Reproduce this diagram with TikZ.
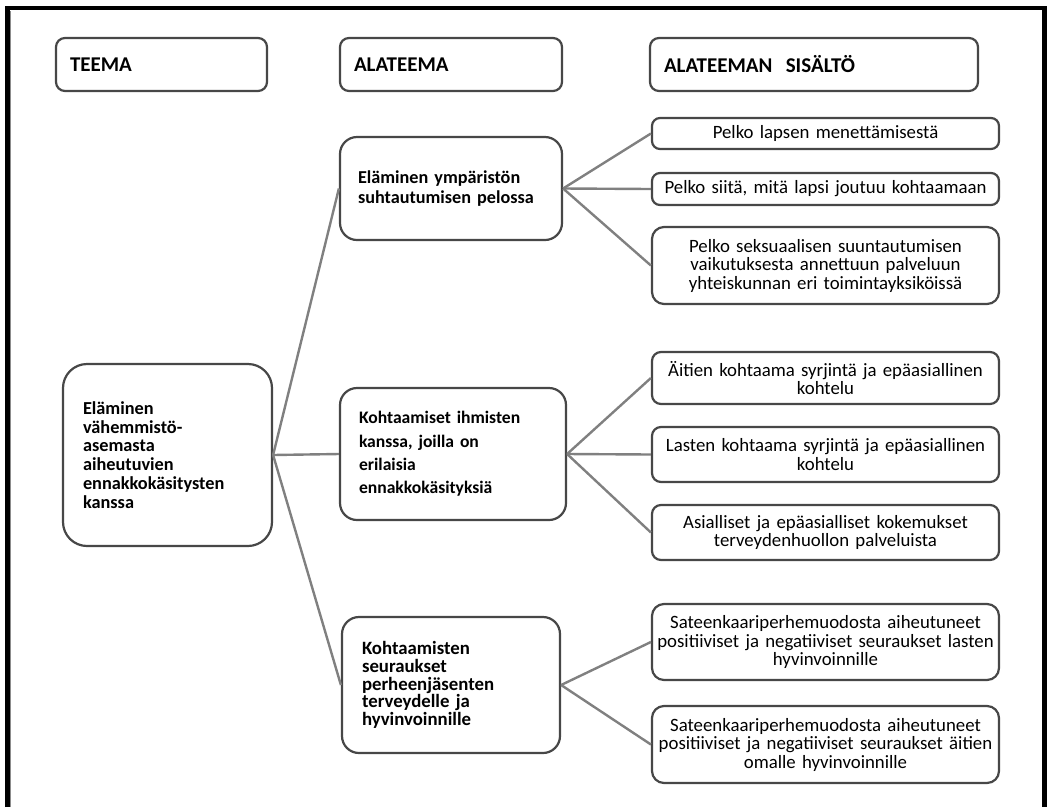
\documentclass[tikz,border=0pt]{standalone}
\usepackage{fontspec}
\setmainfont{Carlito}
\begin{document}
\begin{tikzpicture}[x=1pt,y=-1pt,
  box/.style={draw=black!72, line width=2.2pt, fill=white, inner ysep=0pt},
  hdr/.style={box, rounded corners=9pt, text width=#1, align=left, inner xsep=14pt, minimum height=53pt, font=\bfseries\fontsize{21}{24}\selectfont},
  midbox/.style={box, rounded corners=17pt, align=left, inner xsep=18pt},
  sub/.style={box, rounded corners=9pt, text width=343pt, inner xsep=2pt, align=center, font=\fontsize{18.8}{18.5}\selectfont},
  link/.style={draw=black!50, line width=2.4pt}
]
\useasboundingbox (0,0) rectangle (1047,807);
% frame
\draw[line width=4.5pt] (7.5,807) -- (7.5,8) -- (1044.5,8) -- (1044.5,807);
\draw[line width=1pt, black!45] (10.5,807) -- (10.5,11);

% headers
\node[hdr=183pt] (h1) at (161.5,64.5) {TEEMA};
\node[hdr=194pt] (h2) at (451,64.5) {ALATEEMA};
\node[hdr=300pt] (h3) at (814,64.5) {ALATEEMAN\hspace{0.3em} SISÄLTÖ};

% theme
\node[box, rounded corners=24pt, text width=169pt, inner xsep=20pt, minimum height=182pt, align=left,
  font=\bfseries\fontsize{18.3}{18.8}\selectfont] (t) at (167.5,455)
  {Eläminen\\vähemmistö-\\asemasta\\aiheutuvien\\ennakkokäsitysten\\kanssa};

% subthemes
\node[midbox, text width=186pt, minimum height=103pt, font=\bfseries\fontsize{18.2}{19.5}\selectfont] (a1) at (451,188.5)
  {Eläminen ympäristön\\suhtautumisen pelossa};
\node[midbox, text width=188pt, inner xsep=19pt, minimum height=132pt, font=\bfseries\fontsize{17.6}{23.3}\selectfont] (a2) at (453,454)
  {Kohtaamiset ihmisten\\kanssa, joilla on\\erilaisia\\ennakkokäsityksiä};
\node[midbox, text width=178pt, inner xsep=20pt, minimum height=136pt, font=\bfseries\fontsize{18.8}{17.6}\selectfont] (a3) at (451,685)
  {Kohtaamisten\\seuraukset\\perheenjäsenten\\terveydelle ja\\hyvinvoinnille};

% contents
\node[sub, rounded corners=8pt, minimum height=31pt] (s1) at (825.5,133.5) {Pelko lapsen menettämisestä};
\node[sub, rounded corners=8pt, minimum height=32pt] (s2) at (825.5,189) {Pelko siitä, mitä lapsi joutuu kohtaamaan};
\node[sub, rounded corners=12pt, minimum height=77pt] (s3) at (825.5,265.5) {Pelko seksuaalisen suuntautumisen\\vaikutuksesta annettuun palveluun\\yhteiskunnan eri toimintayksiköissä};
\node[sub, minimum height=52pt] (s4) at (825.5,378) {Äitien kohtaama syrjintä ja epäasiallinen\\kohtelu};
\node[sub, minimum height=55pt] (s5) at (825.5,454.5) {Lasten kohtaama syrjintä ja epäasiallinen\\kohtelu};
\node[sub, minimum height=55pt] (s6) at (825.5,532.5) {Asialliset ja epäasialliset kokemukset\\terveydenhuollon palveluista};
\node[sub, rounded corners=12pt, minimum height=76pt] (s7) at (825.5,642) {Sateenkaariperhemuodosta aiheutuneet\\positiiviset ja negatiiviset seuraukset lasten\\hyvinvoinnille};
\node[sub, rounded corners=12pt, minimum height=77pt] (s8) at (825.5,744.5) {Sateenkaariperhemuodosta aiheutuneet\\positiiviset ja negatiiviset seuraukset äitien\\omalle hyvinvoinnille};

% connectors
\draw[link] (t.east) -- (a1.west);
\draw[link] (t.east) -- (a2.west);
\draw[link] (t.east) -- (a3.west);
\draw[link] (a1.east) -- (s1.west);
\draw[link] (a1.east) -- (s2.west);
\draw[link] (a1.east) -- (s3.west);
\draw[link] (a2.east) -- (s4.west);
\draw[link] (a2.east) -- (s5.west);
\draw[link] (a2.east) -- (s6.west);
\draw[link] (a3.east) -- (s7.west);
\draw[link] (a3.east) -- (s8.west);
\end{tikzpicture}
\end{document}
